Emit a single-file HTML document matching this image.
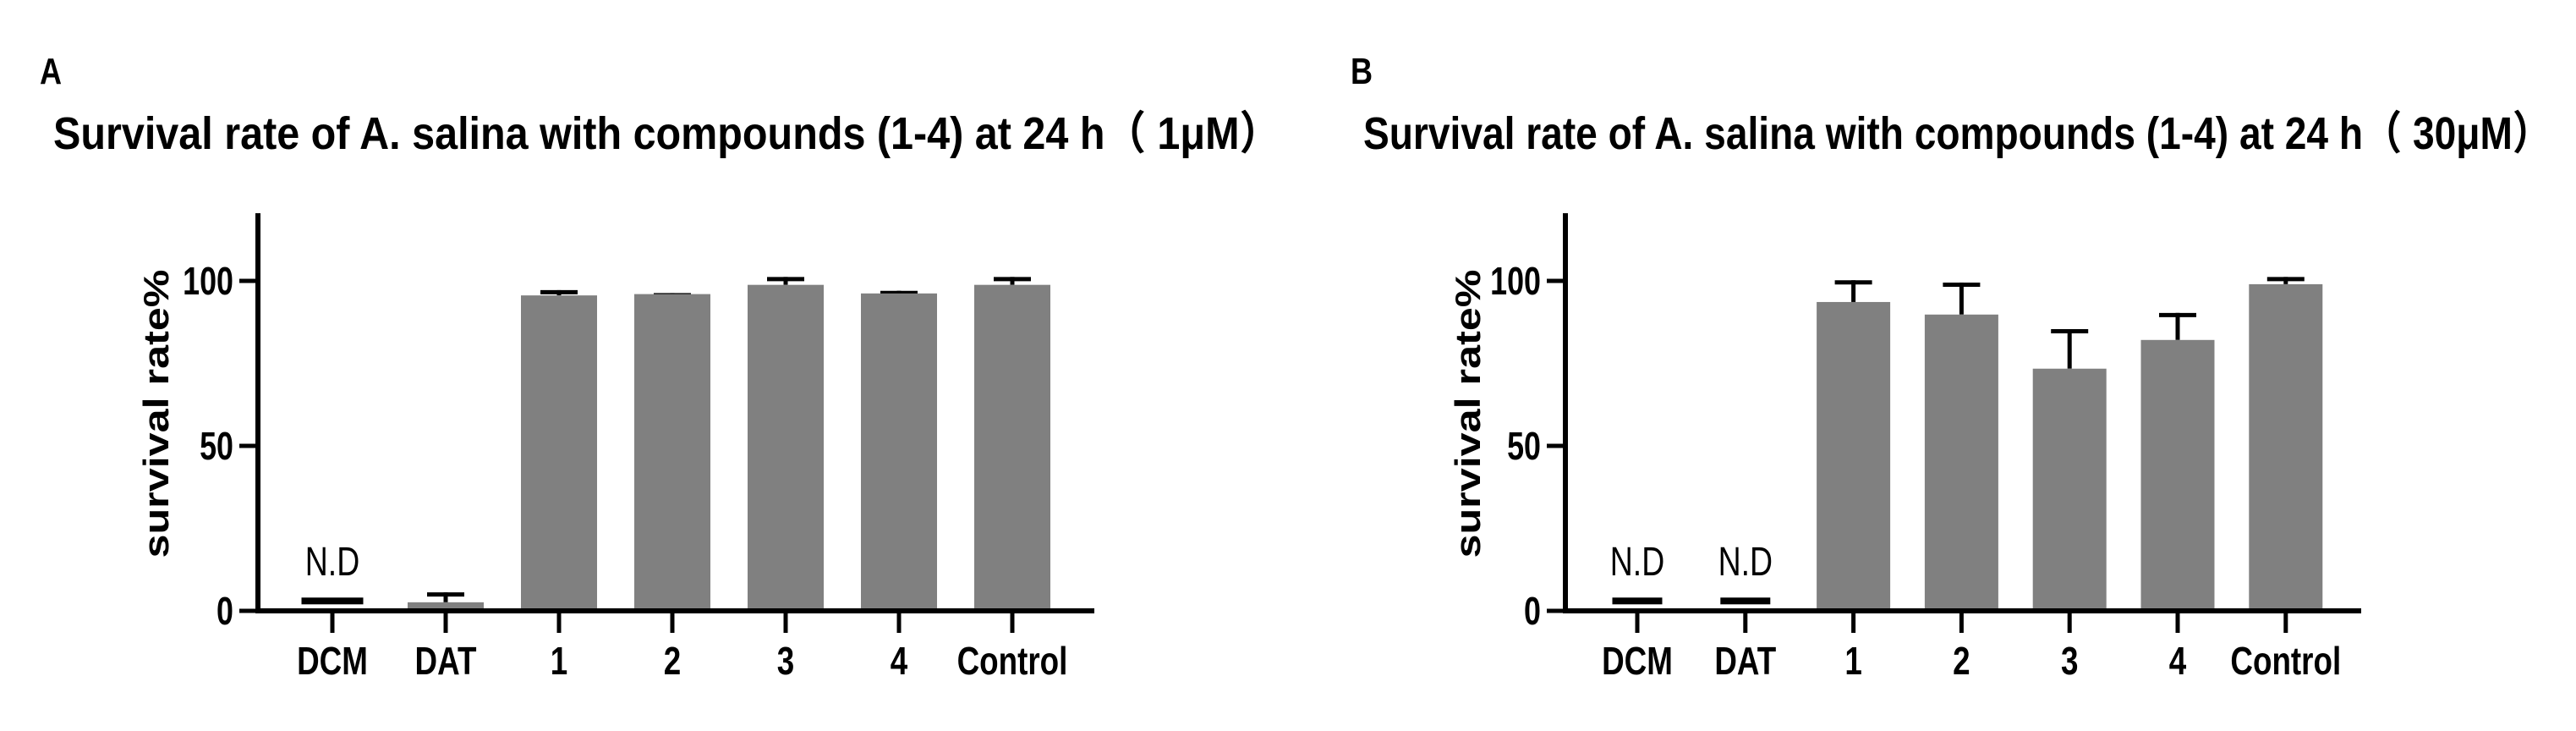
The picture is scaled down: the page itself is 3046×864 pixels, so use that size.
<!DOCTYPE html>
<html><head><meta charset="utf-8">
<style>
html,body{margin:0;padding:0;background:#fff;}
svg{display:block;}
text{font-family:"Liberation Sans","Noto Sans CJK SC",sans-serif;fill:#000;}
</style></head>
<body>
<svg id="chart" width="3046" height="864" viewBox="0 0 3046 864" xmlns="http://www.w3.org/2000/svg"></svg>
<script>
const categories = ["DCM","DAT","1","2","3","4","Control"];
const valuesA = [null, 2.6, 95.6, 96.0, 98.8, 96.2, 98.8];
const errorsA = [null, 3.0, 1.6, 0.3, 2.4, 0.8, 2.4];
const ndA = [true, false, false, false, false, false, false];
const valuesB = [null, null, 93.6, 89.8, 73.4, 82.1, 99.0];
const errorsB = [null, null, 6.6, 9.7, 12.0, 8.2, 2.2];
const ndB = [true, true, false, false, false, false, false];
const yTicks = [0, 50, 100];
const yTickLabels = ["0", "50", "100"];
const ndLevel = 3;
const yMax = 120.5;

const NS = "http://www.w3.org/2000/svg";
const svg = document.getElementById("chart");
function mk(tag, attrs, parent){
  const e = document.createElementNS(NS, tag);
  for (const k in attrs) e.setAttribute(k, attrs[k]);
  (parent || svg).appendChild(e);
  return e;
}

function panel(cfg, values, errors, nd){
  const g = mk("g", {});
  
  
  const y0 = 722, yPerUnit = 3.9;
  const yS = v => y0 - v * yPerUnit;
  const xS = i => cfg.x0 + i * cfg.step;

  const lt = mk("text", {x: cfg.letterX, y: 99, "font-size": 44, "font-weight": "bold", transform: `translate(${cfg.letterX},0) scale(0.82,1) translate(${-cfg.letterX},0)`}, g);
  lt.textContent = cfg.letter;
  
  

  const tt = mk("text", {x: cfg.titleX, y: 176, "font-size": 54, "font-weight": "bold", textLength: cfg.titleW, lengthAdjust: "spacingAndGlyphs"}, g);
  tt.textContent = cfg.title;
  
  

  const yt = mk("text", {x: 0, y: 0, "font-size": 42, "font-weight": "bold", "text-anchor": "middle", textLength: 341, lengthAdjust: "spacingAndGlyphs", transform: `translate(${cfg.yTitleX},489) rotate(-90)`}, g);
  yt.textContent = "survival rate%";
  
  

  values.forEach((v, i) => {
    const cx = xS(i);
    if (nd[i]) {
      const m = mk("rect", {x: cx - cfg.ndW/2, y: yS(ndLevel) - 4, width: cfg.ndW, height: 8, fill: "#000"}, g);
      
      
      const t = mk("text", {x: 0, y: 0, "font-size": 48, "text-anchor": "middle", transform: `translate(${cx},680) scale(0.78,1)`}, g);
      t.textContent = "N.D";
      
      
      return;
    }
    if (v === null) return;
    const top = yS(v);
    const errTop = yS(v + errors[i]);
    const eb = mk("line", {x1: cx, x2: cx, y1: top, y2: errTop, stroke: "#000", "stroke-width": 5}, g);
    
    
    const cap = mk("line", {x1: cx - 22, x2: cx + 22, y1: errTop + 2.5, y2: errTop + 2.5, stroke: "#000", "stroke-width": 5}, g);
    
    
    const b = mk("rect", {x: cx - cfg.barW/2, y: top, width: cfg.barW, height: y0 - top, fill: "#808080"}, g);
    
    
  });

  const ya = mk("line", {x1: cfg.axisX, x2: cfg.axisX, y1: yS(yMax), y2: y0 + 3, stroke: "#000", "stroke-width": 6}, g);
  
  
  yTicks.forEach((tv, k) => {
    const ty = yS(tv);
    const tk = mk("line", {x1: cfg.axisX - 22, x2: cfg.axisX, y1: ty, y2: ty, stroke: "#000", "stroke-width": 5}, g);
    
    
    const tl = mk("text", {x: 0, y: 0, "font-size": 46, "font-weight": "bold", "text-anchor": "end", transform: `translate(${cfg.axisX - 29},${ty + 16}) scale(0.78,1)`}, g);
    tl.textContent = yTickLabels[k];
    
    
  });

  const xa = mk("line", {x1: cfg.axisX - 3, x2: cfg.axisEnd, y1: y0, y2: y0, stroke: "#000", "stroke-width": 6}, g);
  
  
  categories.forEach((c, i) => {
    const cx = xS(i);
    const tk = mk("line", {x1: cx, x2: cx, y1: y0, y2: 748, stroke: "#000", "stroke-width": 5}, g);
    
    
    const tl = mk("text", {x: 0, y: 0, "font-size": 46, "font-weight": "bold", "text-anchor": "middle", transform: `translate(${cx},797) scale(0.8,1)`}, g);
    tl.textContent = c;
    
    
  });
}

panel({id: "a", letter: "A", letterX: 47, titleX: 63, titleW: 1451,
  title: "Survival rate of A. salina with compounds (1-4)  at 24 h\uFF08 1\u03BCM\uFF09",
  yTitleX: 199, axisX: 305, axisEnd: 1294, x0: 393, step: 134, barW: 90, ndW: 73}, valuesA, errorsA, ndA);
panel({id: "b", letter: "B", letterX: 1597, titleX: 1612, titleW: 1405,
  title: "Survival rate of A. salina with compounds (1-4)  at 24 h\uFF08 30\u03BCM\uFF09",
  yTitleX: 1750, axisX: 1851, axisEnd: 2792, x0: 1936, step: 127.8, barW: 87, ndW: 59}, valuesB, errorsB, ndB);
</script>
</body></html>
